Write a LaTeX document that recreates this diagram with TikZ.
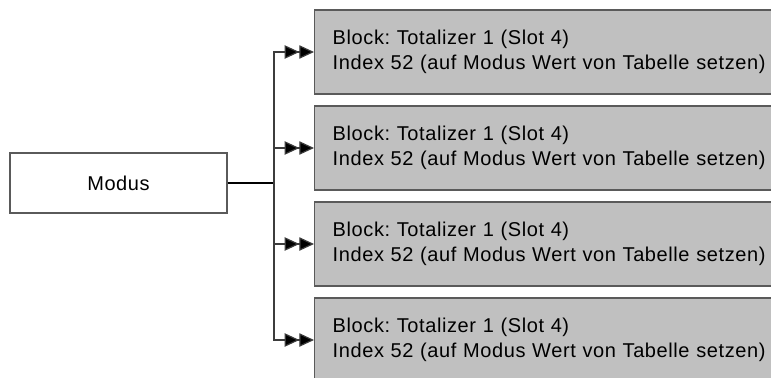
\documentclass[tikz,border=0pt]{standalone}
\usepackage{fontspec}
\setmainfont{Liberation Sans}[LetterSpace=3]
\usetikzlibrary{arrows.meta}
\frenchspacing

\begin{document}
\begin{tikzpicture}[x=0.75pt,y=0.75pt,yscale=-1,xscale=1,
  srcbox/.style={draw={rgb, 255:red, 90; green, 90; blue, 90 },line width=1.1pt,fill=white,minimum width=162.75pt,minimum height=45pt,inner sep=0pt,font=\fontsize{15pt}{18.75pt}\selectfont},
  blockbox/.style={draw={rgb, 255:red, 90; green, 90; blue, 90 },line width=1.1pt,fill={rgb, 255:red, 192; green, 192; blue, 192 },anchor=west,minimum height=63pt,inner xsep=13.5pt,inner ysep=0pt,text width=330pt,align=left,font=\fontsize{15pt}{18.75pt}\selectfont},
  branch/.style={draw={rgb, 255:red, 60; green, 60; blue, 60 },line width=0.9pt,-{Triangle[length=11pt,width=10pt,fill=black]Triangle[length=11pt,width=10pt,fill=black]}},
  trunk/.style={draw=black,line width=1.2pt}]
\useasboundingbox (0,0) rectangle (771,378);
\clip (0,0) rectangle (771,378);

% Source
\node [srcbox] (modus) at (118.5,183) {Modus};
\coordinate (fork) at (274,183);

% Blocks
\node [blockbox] (blk1) at (314,52) {Block: Totalizer 1 (Slot 4)\\Index 52 (auf Modus Wert von Tabelle setzen)};
\node [blockbox] (blk2) at (314,148) {Block: Totalizer 1 (Slot 4)\\Index 52 (auf Modus Wert von Tabelle setzen)};
\node [blockbox] (blk3) at (314,244) {Block: Totalizer 1 (Slot 4)\\Index 52 (auf Modus Wert von Tabelle setzen)};
\node [blockbox] (blk4) at (314,340) {Block: Totalizer 1 (Slot 4)\\Index 52 (auf Modus Wert von Tabelle setzen)};

% Connectors
\draw [trunk] (modus.east) -- (fork);
\draw [branch] (fork) |- (blk1.west);
\draw [branch] (fork) |- (blk2.west);
\draw [branch] (fork) |- (blk3.west);
\draw [branch] (fork) |- (blk4.west);

\end{tikzpicture}
\end{document}
